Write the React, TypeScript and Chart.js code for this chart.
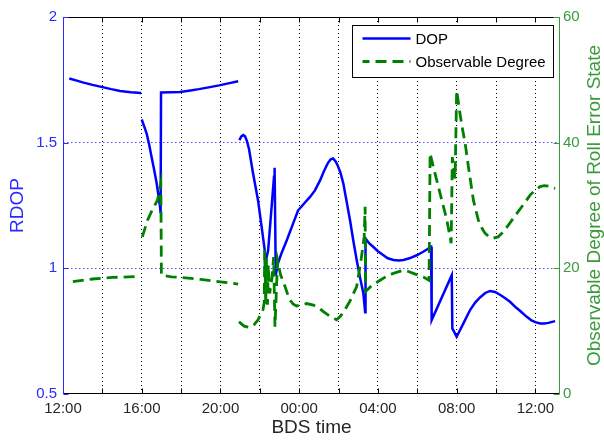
import React, { useEffect, useRef } from 'react';
import { Chart, registerables } from 'chart.js';

Chart.register(...registerables);

// ---- data (hours elapsed since 12:00 BDS time) ----
const dopHours = [
  0.32, 0.7, 1.0, 1.5, 1.95, 2.45, 2.9, 3.45, 3.97, 3.985,
  4.0, 4.12, 4.25, 4.38, 4.5, 4.63, 4.76, 4.85, 4.93, 4.96, 4.98,
  5.5, 5.94, 6.4, 6.9, 7.4, 7.93, 8.4, 8.9, 8.93,
  8.96, 9.06, 9.16, 9.25, 9.35, 9.45, 9.65, 9.91, 10.1, 10.25, 10.27, 10.42, 10.72, 10.75, 10.81, 10.92,
  11.1, 11.37, 11.65, 11.94, 12.25, 12.55, 12.8, 13.06, 13.25, 13.45, 13.6, 13.72, 13.85, 13.95,
  14.1, 14.24, 14.4, 14.58, 14.75, 14.92, 15.1, 15.26, 15.35,
  15.37, 15.55, 15.77, 16.0, 16.28, 16.5, 16.79, 17.05, 17.3, 17.6, 17.97, 18.3, 18.7,
  18.73, 19.75, 19.78,
  20.0, 20.17, 20.4, 20.68, 20.95, 21.2, 21.45, 21.7, 21.95, 22.2, 22.45, 22.71, 23.0, 23.2,
  23.56, 23.8, 24.0, 24.24, 24.45, 24.66, 25.0,
];
const dopValues = [
  1.755, 1.747, 1.74, 1.73, 1.722, 1.713, 1.706, 1.701, 1.698, null,
  1.592, 1.566, 1.536, 1.492, 1.443, 1.392, 1.338, 1.29, 1.245, 1.22, 1.7,
  1.701, 1.702, 1.707, 1.713, 1.72, 1.728, 1.736, 1.744, null,
  1.51, 1.525, 1.53, 1.525, 1.505, 1.475, 1.38, 1.27, 1.16, 1.072, 1.02, 1.07, 1.364, 1.4, 0.973, 1.02,
  1.06, 1.112, 1.17, 1.23, 1.258, 1.284, 1.31, 1.35, 1.385, 1.418, 1.434, 1.437, 1.425, 1.41,
  1.38, 1.338, 1.27, 1.192, 1.11, 1.033, 0.96, 0.9, 0.825,
  1.119, 1.1, 1.085, 1.068, 1.052, 1.04, 1.033, 1.031, 1.033, 1.04, 1.052, 1.066, 1.085,
  0.794, 0.973, 0.761,
  0.728, 0.754, 0.79, 0.834, 0.865, 0.885, 0.902, 0.91, 0.906, 0.895, 0.882, 0.867, 0.845, 0.832,
  0.807, 0.793, 0.786, 0.781, 0.781, 0.783, 0.79,
];

const degHours = [
  0.5, 1.5, 2.5, 3.9, 3.97,
  4.03, 4.3, 4.55, 4.8, 4.97, 5.0, 5.5, 6.0, 7.0, 8.0, 8.9, 8.92,
  8.94, 9.2, 9.45, 9.7, 9.91, 10.16, 10.22, 10.25, 10.3, 10.34, 10.39, 10.43, 10.5,
  10.62, 10.7, 10.77, 10.9, 11.05, 11.28, 11.4, 11.53, 11.7, 11.87, 12.1, 12.38, 12.72, 13.0,
  13.23, 13.55, 13.9, 14.1, 14.3, 14.58, 14.92, 15.15, 15.3, 15.35,
  15.37, 15.7, 16.11, 16.45, 16.78, 17.29, 17.55, 17.8, 18.05, 18.31, 18.6,
  18.65, 18.9, 19.16, 19.5, 19.72, 19.78, 19.92,
  20.0, 20.17, 20.3, 20.43, 20.6, 20.85, 21.1, 21.3, 21.44, 21.65, 21.87, 22.1, 22.37, 22.7,
  23.05, 23.4, 23.73, 24.0, 24.24, 24.45, 24.66, 24.85, 25.0,
];
const degValues = [
  17.9, 18.3, 18.55, 18.7, null,
  25.0, 27.7, 29.4, 30.85, 33.5, 18.9, 18.65, 18.55, 18.24, 17.86, 17.5, null,
  11.5, 10.8, 10.6, 11.0, 11.8, 13.4, 14.5, 22.9, 14.0, 21.5, 14.2, 20.5, 16.0,
  18.5, 21.8, 10.7, 21.3, 19.0, 17.1, 16.0, 14.95, 14.3, 14.0, 14.2, 14.4, 14.15, 13.7,
  13.1, 12.4, 11.8, 12.4, 13.3, 14.8, 17.1, 21.5, 25.0, 29.8,
  16.3, 17.3, 18.1, 18.75, 19.2, 19.7, 19.5, 19.2, 18.9, 18.6, 18.1,
  38.3, 35.1, 31.9, 27.7, 24.0, 37.7, 34.3,
  48.3, 44.6, 42.1, 39.9, 36.1, 30.85, 27.7, 26.3, 25.6, 25.0, 24.8, 25.0, 25.8, 27.2,
  28.7, 30.2, 31.65, 32.5, 33.0, 33.15, 33.1, 32.9, 32.7,
];

const xLabelHours = [0, 4, 8, 12, 16, 20, 24];
const xLabels = ['12:00', '16:00', '20:00', '00:00', '04:00', '08:00', '12:00'];
const xMinorHours = [2, 4, 6, 8, 10, 12, 14, 16, 18, 20, 22, 24];
const leftTicks = [0.5, 1, 1.5, 2];
const rightTicks = [0, 20, 40, 60];
const seriesNames = ['DOP', 'Observable Degree'];
const xTitle = 'BDS time';
const leftTitle = 'RDOP';
const rightTitle = 'Observable Degree of Roll Error State';

const FONT = "'Liberation Sans', Arial, Helvetica, sans-serif";
const BLUE = '#0000ff';
const BLUE_AXIS = '#2a2aff';
const GREEN = '#008000';
const GREEN_AXIS = '#3a9a3a';

const framePlugin = {
  id: 'frame',
  afterDraw(chart: any) {
    const { ctx, chartArea: a, scales } = chart;
    const xs = scales.x;
    const ys = scales.y;
    const ys1 = scales.y1;
    ctx.save();
    ctx.setLineDash([]);
    ctx.lineWidth = 1;
    const seg = (x1: number, y1: number, x2: number, y2: number, c: string) => {
      ctx.strokeStyle = c;
      ctx.beginPath();
      ctx.moveTo(x1, y1);
      ctx.lineTo(x2, y2);
      ctx.stroke();
    };
    const L = Math.round(a.left) + 0.5;
    const R = Math.round(a.right) - 0.5;
    const T = Math.round(a.top) + 0.5;
    const B = Math.round(a.bottom) - 0.5;
    seg(L, T, R, T, '#000');
    seg(L, B, R, B, '#000');
    xMinorHours.forEach((h) => {
      const px = Math.round(xs.getPixelForValue(h)) + 0.5;
      seg(px, B, px, B - 5, '#000');
      seg(px, T, px, T + 5, '#000');
    });
    seg(L, T - 0.5, L, B + 0.5, BLUE_AXIS);
    leftTicks.forEach((v) => {
      const py = Math.round(ys.getPixelForValue(v)) + 0.5;
      seg(L, py, L + 5, py, BLUE_AXIS);
    });
    seg(R, T - 0.5, R, B + 0.5, GREEN_AXIS);
    rightTicks.forEach((v) => {
      const py = Math.round(ys1.getPixelForValue(v)) + 0.5;
      seg(R, py, R - 6, py, GREEN_AXIS);
    });

    const midY = (a.top + a.bottom) / 2;
    ctx.font = `19px ${FONT}`;
    ctx.textAlign = 'center';
    ctx.textBaseline = 'middle';
    ctx.fillStyle = BLUE_AXIS;
    ctx.save();
    ctx.translate(18, midY);
    ctx.rotate(-Math.PI / 2);
    ctx.fillText(leftTitle, 0, 0);
    ctx.restore();
    ctx.fillStyle = GREEN_AXIS;
    ctx.save();
    ctx.translate(595, midY);
    ctx.rotate(-Math.PI / 2);
    ctx.fillText(rightTitle, 0, 0);
    ctx.restore();
    ctx.fillStyle = '#262626';
    ctx.fillText(xTitle, (a.left + a.right) / 2, 428);

    const lw = 201;
    const lh = 52;
    const lx = Math.round(a.right) - 7 - lw + 0.5;
    const ly = Math.round(a.top) + 8 + 0.5;
    ctx.fillStyle = '#fff';
    ctx.fillRect(lx, ly, lw, lh);
    ctx.strokeStyle = '#000';
    ctx.lineWidth = 1;
    ctx.strokeRect(lx, ly, lw, lh);
    const ds = chart.data.datasets;
    const rows = [ly + 13, ly + 36];
    ctx.font = `15px ${FONT}`;
    ctx.textAlign = 'left';
    ctx.textBaseline = 'middle';
    seriesNames.forEach((name, i) => {
      const d = ds[i];
      ctx.save();
      ctx.strokeStyle = d.borderColor;
      ctx.lineWidth = d.borderWidth;
      ctx.setLineDash(d.borderDash || []);
      ctx.lineDashOffset = 4;
      ctx.beginPath();
      ctx.moveTo(lx + 10, rows[i]);
      ctx.lineTo(lx + 58, rows[i]);
      ctx.stroke();
      ctx.restore();
      ctx.fillStyle = '#000';
      ctx.fillText(name, lx + 63, rows[i] + 1);
    });
    ctx.restore();
  },
};

export default function App() {
  const ref = useRef<HTMLCanvasElement | null>(null);
  useEffect(() => {
    if (!ref.current) return;
    const dopData = dopHours.map((h, i) => ({ x: h, y: dopValues[i] }));
    const degData = degHours.map((h, i) => ({ x: h, y: degValues[i] }));
    const chart = new Chart(ref.current, {
      type: 'line',
      data: {
        datasets: [
          {
            label: seriesNames[0],
            data: dopData as any,
            borderColor: BLUE,
            borderWidth: 2.5,
            pointRadius: 0,
            tension: 0,
            spanGaps: false,
            yAxisID: 'y',
            order: 1,
          },
          {
            label: seriesNames[1],
            data: degData as any,
            borderColor: GREEN,
            borderWidth: 2.8,
            borderDash: [11, 6],
            borderCapStyle: 'butt',
            pointRadius: 0,
            tension: 0,
            spanGaps: false,
            yAxisID: 'y1',
            order: 0,
          },
        ] as any,
      },
      options: {
        responsive: false,
        animation: false,
        events: [],
        layout: { padding: { top: 17, left: 0, right: 0, bottom: 0 } },
        plugins: { legend: { display: false }, tooltip: { enabled: false } },
        scales: {
          x: {
            type: 'linear',
            min: 0,
            max: 25.25,
            afterFit: (s: any) => { s.height = 48; },
            ticks: {
              stepSize: 2,
              includeBounds: false,
              autoSkip: false,
              maxRotation: 0,
              padding: 6,
              color: '#262626',
              font: { family: FONT, size: 15 },
              callback: (v: any) => {
                const i = xLabelHours.indexOf(Number(v));
                return i >= 0 ? xLabels[i] : '';
              },
            },
            grid: {
              drawTicks: false,
              lineWidth: 1,
              color: (c: any) => (c.tick && c.tick.value > 0 && c.tick.value < 25 ? '#000' : 'rgba(0,0,0,0)'),
            },
            border: { display: false, dash: [1, 3] },
          },
          y: {
            type: 'linear',
            position: 'left',
            min: 0.5,
            max: 2,
            afterFit: (s: any) => { s.width = 63; },
            ticks: {
              stepSize: 0.5,
              padding: 6,
              color: BLUE_AXIS,
              font: { family: FONT, size: 15 },
              callback: (v: any) => (leftTicks.includes(Number(v)) ? String(v) : ''),
            },
            grid: {
              drawTicks: false,
              lineWidth: 1,
              color: (c: any) => (c.tick && (c.tick.value === 1 || c.tick.value === 1.5) ? '#4d4dff' : 'rgba(0,0,0,0)'),
            },
            border: { display: false, dash: [1.5, 2.5] },
          },
          y1: {
            type: 'linear',
            position: 'right',
            min: 0,
            max: 60,
            afterFit: (s: any) => { s.width = 44; },
            ticks: {
              stepSize: 20,
              padding: 3,
              color: GREEN_AXIS,
              font: { family: FONT, size: 15 },
              callback: (v: any) => (rightTicks.includes(Number(v)) ? String(v) : ''),
            },
            grid: { display: false, drawTicks: false },
            border: { display: false },
          },
        },
      } as any,
      plugins: [framePlugin],
    });
    return () => chart.destroy();
  }, []);
  return (
    <div style={{ position: 'absolute', left: 0, top: 0, width: 604, height: 442, background: '#fff' }}>
      <canvas ref={ref} width={604} height={442} style={{ display: 'block' }} />
    </div>
  );
}
